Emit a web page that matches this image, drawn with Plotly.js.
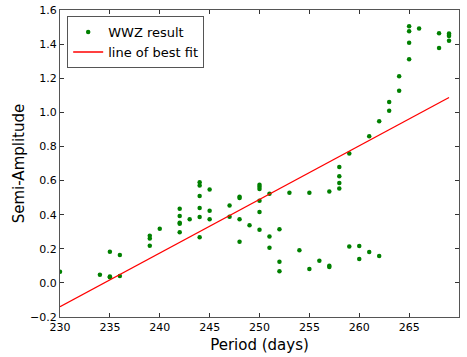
<!DOCTYPE html>
<html>
<head>
<meta charset="utf-8">
<script src="https://cdn.plot.ly/plotly-3.0.1.min.js"></script>
<style>html,body{margin:0;padding:0;background:#fff;}#chart{width:467px;height:357px;}</style>
</head>
<body>
<div id="chart"></div>
<script>
const periods = [
  230, 234, 235, 235, 235, 236, 236,
  239, 239, 239, 240,
  242, 242, 242, 242, 242, 243,
  244, 244, 244, 244, 244, 244,
  245, 245, 245, 247, 247,
  248, 248, 248, 248, 249,
  250, 250, 250, 250, 250, 250,
  251, 251, 251, 252, 252, 252, 253, 254, 255, 255, 256,
  257, 257, 257, 258, 258, 258, 258, 259, 259, 260, 260,
  261, 261, 262, 262, 263, 263, 264, 264,
  265, 265, 265, 265, 266, 268, 268, 269, 269, 269, 269
];
const amplitudes = [
  0.066, 0.047, 0.183, 0.038, 0.033, 0.163, 0.040,
  0.276, 0.260, 0.218, 0.318,
  0.435, 0.392, 0.353, 0.347, 0.297, 0.373,
  0.590, 0.571, 0.509, 0.439, 0.386, 0.268,
  0.548, 0.423, 0.373, 0.454, 0.388,
  0.505, 0.497, 0.373, 0.241, 0.338,
  0.575, 0.563, 0.551, 0.482, 0.416, 0.311,
  0.522, 0.272, 0.206, 0.315, 0.124, 0.068, 0.528, 0.192, 0.528, 0.082, 0.130,
  0.536, 0.101, 0.093, 0.680, 0.625, 0.586, 0.553, 0.759, 0.214, 0.217, 0.140,
  0.860, 0.181, 0.948, 0.157, 1.010, 1.060, 1.126, 1.212,
  1.505, 1.476, 1.408, 1.311, 1.491, 1.464, 1.377, 1.462, 1.454, 1.447, 1.419
];
const fitPeriods = [230, 269];
const fitAmplitudes = [-0.14, 1.087];
const xTicks = [230, 235, 240, 245, 250, 255, 260, 265, 270];
const yTicks = [-0.2, 0.0, 0.2, 0.4, 0.6, 0.8, 1.0, 1.2, 1.4, 1.6];

const font = "DejaVu Sans, sans-serif";
const traces = [
  {x: periods, y: amplitudes, mode: 'markers', type: 'scatter', name: 'WWZ result',
   marker: {color: '#008000', size: 4.5}},
  {x: fitPeriods, y: fitAmplitudes, mode: 'lines', type: 'scatter', name: 'line of best fit',
   line: {color: '#ff0000', width: 1.3}}
];
const axisCommon = {showline: true, linecolor: '#555', linewidth: 1, mirror: 'allticks',
  ticks: 'inside', ticklen: 4, tickcolor: '#333', showgrid: false, zeroline: false,
  tickfont: {family: font, size: 11, color: '#000'}};
const layout = {
  width: 467, height: 357,
  margin: {l: 60, r: 8, t: 10, b: 40},
  paper_bgcolor: '#fff', plot_bgcolor: '#fff',
  font: {family: font, color: '#000'},
  showlegend: true,
  legend: {x: 0.018, y: 0.98, xanchor: 'left', yanchor: 'top',
    bgcolor: '#fff', bordercolor: '#555', borderwidth: 1,
    font: {family: font, size: 13}, tracegroupgap: 0, itemwidth: 30},
  xaxis: Object.assign({}, axisCommon, {range: [230, 270], tickvals: xTicks,
    ticktext: xTicks.map(String),
    title: {text: 'Period (days)', font: {family: font, size: 15}, standoff: 6}}),
  yaxis: Object.assign({}, axisCommon, {range: [-0.2, 1.6], tickvals: yTicks,
    ticktext: yTicks.map(v => (v < 0 ? '\u2212' : '') + Math.abs(v).toFixed(1)),
    title: {text: 'Semi-Amplitude', font: {family: font, size: 15}, standoff: 1}})
};
Plotly.newPlot('chart', traces, layout, {staticPlot: true, displayModeBar: false});
</script>
</body>
</html>
